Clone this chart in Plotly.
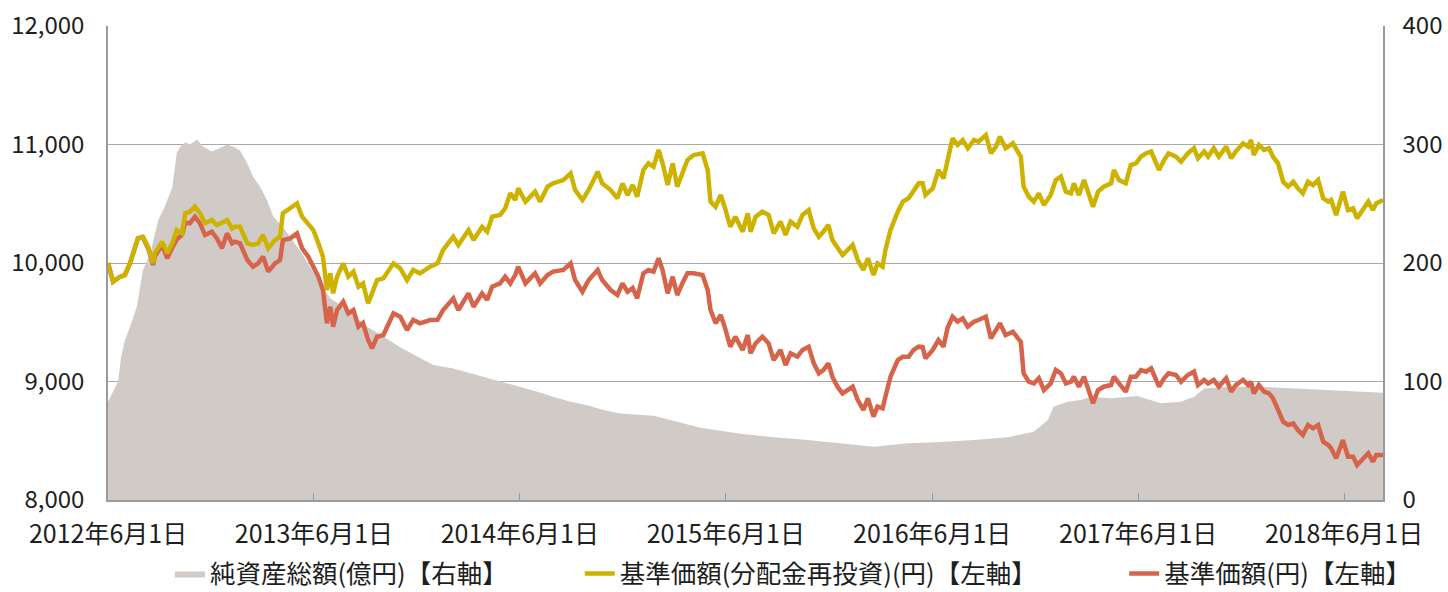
import plotly.graph_objects as go

# ---- data ----
line_dates = [
"2012-06-01","2012-06-10","2012-06-21","2012-07-01","2012-07-10","2012-07-24","2012-08-02","2012-08-11","2012-08-20","2012-08-23",
"2012-09-05","2012-09-14","2012-09-23","2012-10-01","2012-10-10","2012-10-16","2012-10-24","2012-11-02","2012-11-11","2012-11-20",
"2012-12-02","2012-12-11","2012-12-20","2012-12-29","2013-01-07","2013-01-12","2013-01-21","2013-02-03","2013-02-13","2013-02-22",
"2013-03-03","2013-03-12","2013-03-24","2013-04-02","2013-04-07","2013-04-20","2013-05-02","2013-05-11","2013-05-22","2013-05-31",
"2013-06-09","2013-06-17","2013-06-24","2013-06-30","2013-07-05","2013-07-12","2013-07-23","2013-08-01","2013-08-10","2013-08-19",
"2013-08-27","2013-09-05","2013-09-12","2013-09-21","2013-10-02","2013-10-20","2013-11-01","2013-11-13","2013-11-24","2013-12-06",
"2013-12-24","2014-01-06","2014-01-16","2014-02-03","2014-02-12","2014-03-02","2014-03-11","2014-03-26","2014-04-04","2014-04-13",
"2014-04-27","2014-05-06","2014-05-15","2014-05-24","2014-05-29","2014-06-11","2014-06-28","2014-07-07","2014-07-20","2014-07-30",
"2014-08-17","2014-08-30","2014-09-07","2014-09-20","2014-10-01","2014-10-17","2014-10-25","2014-11-09","2014-11-21","2014-11-30",
"2014-12-09","2014-12-18","2014-12-26","2015-01-06","2015-01-15","2015-01-24","2015-02-02","2015-02-09","2015-02-18","2015-02-27",
"2015-03-07","2015-03-16","2015-03-25","2015-04-05","2015-04-21","2015-04-30","2015-05-05","2015-05-14","2015-05-23","2015-05-30",
"2015-06-09","2015-06-18","2015-07-01","2015-07-10","2015-07-15","2015-07-24","2015-08-05","2015-08-16","2015-08-25","2015-09-06",
"2015-09-15","2015-09-24","2015-10-06","2015-10-15","2015-10-26","2015-11-04","2015-11-13","2015-11-21","2015-11-30","2015-12-07",
"2015-12-16","2015-12-25","2016-01-03","2016-01-12","2016-01-21","2016-01-31","2016-02-08","2016-02-18","2016-02-25","2016-03-05",
"2016-03-10","2016-03-19","2016-04-01","2016-04-10","2016-04-20","2016-04-29","2016-05-08","2016-05-15","2016-05-20","2016-06-02",
"2016-06-12","2016-06-21","2016-06-28","2016-07-07","2016-07-16","2016-07-25","2016-08-03","2016-08-14","2016-08-22","2016-09-04",
"2016-09-13","2016-09-22","2016-09-29","2016-10-09","2016-10-22","2016-10-31","2016-11-05","2016-11-10","2016-11-19","2016-11-28",
"2016-12-07","2016-12-16","2016-12-28","2017-01-06","2017-01-15","2017-01-24","2017-02-02","2017-02-07","2017-02-16","2017-02-25",
"2017-03-04","2017-03-13","2017-03-22","2017-04-01","2017-04-14","2017-04-19","2017-04-28","2017-05-10","2017-05-19","2017-05-28",
"2017-06-06","2017-06-15","2017-06-24","2017-07-02","2017-07-08","2017-07-17","2017-07-25","2017-08-07","2017-08-16","2017-08-28",
"2017-09-08","2017-09-15","2017-09-26","2017-10-03","2017-10-13","2017-10-22","2017-11-04","2017-11-13","2017-11-21","2017-12-04",
"2017-12-13","2017-12-18","2017-12-23","2018-01-01","2018-01-10","2018-01-19","2018-01-26","2018-02-04","2018-02-13","2018-02-22",
"2018-03-03","2018-03-11","2018-03-20","2018-03-29","2018-04-07","2018-04-16","2018-04-25","2018-05-04","2018-05-09","2018-05-18",
"2018-05-23","2018-05-30","2018-06-08","2018-06-17","2018-06-24","2018-07-05","2018-07-14","2018-07-22","2018-07-28","2018-08-09",
]

nav_reinvest = [  # 基準価額(分配金再投資)
10000,9842,9880,9899,9997,10208,10222,10137,10000,10084,
10180,10084,10166,10278,10250,10420,10433,10475,10420,10335,
10363,10320,10340,10363,10290,10306,10306,10166,10152,10166,
10236,10124,10194,10222,10420,10461,10503,10391,10335,10278,
10166,10053,9772,9913,9744,9884,9997,9884,9927,9800,
9828,9660,9744,9856,9870,9997,9955,9856,9941,9913,
9969,9997,10110,10222,10152,10278,10194,10306,10264,10391,
10405,10461,10588,10532,10630,10518,10602,10518,10644,10672,
10700,10757,10616,10532,10616,10771,10672,10616,10546,10672,
10574,10658,10560,10785,10841,10813,10954,10841,10658,10841,
10644,10771,10869,10911,10926,10785,10518,10475,10574,10475,
10306,10391,10264,10420,10264,10391,10433,10405,10250,10349,
10236,10349,10306,10405,10447,10292,10222,10264,10321,10194,
10124,10067,10110,10152,10025,9941,10040,9899,9997,9969,
10110,10278,10433,10518,10546,10602,10672,10672,10574,10630,
10785,10714,10869,11052,10996,11038,10968,11038,11024,11080,
10926,10982,11066,10968,11010,10926,10897,10644,10560,10518,
10588,10489,10574,10700,10729,10602,10588,10672,10574,10700,
10602,10475,10602,10644,10672,10785,10700,10672,10827,10841,
10897,10926,10940,10855,10785,10869,10926,10897,10855,10926,
10968,10883,10940,10897,10968,10897,10982,10883,10940,11010,
10982,11038,10911,10996,10954,10968,10897,10841,10686,10644,
10686,10630,10588,10686,10658,10700,10546,10518,10532,10405,
10489,10602,10447,10461,10377,10447,10518,10447,10503,10532,
]

nav = [  # 基準価額
10000,9842,9880,9899,9997,10208,10215,10125,9985,10060,
10150,10040,10130,10200,10236,10340,10335,10391,10335,10236,
10264,10208,10124,10250,10166,10180,10166,10025,9969,9997,
10053,9927,9997,10025,10194,10208,10250,10124,10053,9969,
9884,9772,9491,9631,9463,9603,9673,9575,9603,9463,
9494,9350,9280,9378,9392,9575,9547,9435,9519,9491,
9519,9520,9603,9702,9603,9744,9631,9744,9688,9800,
9828,9884,9828,9900,9969,9828,9913,9828,9899,9927,
9941,9997,9856,9758,9856,9941,9856,9772,9730,9828,
9758,9790,9702,9913,9941,9927,10040,9941,9744,9884,
9730,9828,9913,9913,9899,9772,9603,9491,9561,9463,
9294,9378,9266,9392,9238,9322,9378,9322,9181,9266,
9139,9238,9209,9266,9294,9153,9069,9097,9153,9041,
8956,8900,8928,8956,8844,8760,8858,8703,8788,8774,
8872,9041,9181,9209,9209,9266,9294,9290,9195,9266,
9350,9294,9449,9547,9505,9533,9463,9505,9519,9547,
9364,9435,9491,9392,9420,9364,9336,9069,8998,8984,
9027,8928,8984,9097,9069,8984,8998,9041,8956,9041,
8942,8816,8928,8956,8970,9041,8984,8914,9041,9041,
9097,9083,9111,9027,8956,9027,9069,9055,8998,9055,
9083,8970,9013,8984,9013,8956,9027,8914,8970,9013,
8970,8998,8900,8970,8914,8900,8858,8760,8661,8633,
8647,8591,8549,8633,8605,8633,8492,8464,8436,8352,
8422,8506,8366,8366,8295,8352,8394,8324,8380,8380,
]

asset_dates = [
"2012-06-01","2012-06-13","2012-06-19","2012-06-24","2012-07-01","2012-07-10","2012-07-22","2012-08-02","2012-08-15","2012-08-29",
"2012-09-10","2012-09-23","2012-10-01","2012-10-07","2012-10-16","2012-10-24","2012-11-06","2012-11-17","2012-12-02","2012-12-17",
"2012-12-29","2013-01-09","2013-01-21","2013-02-03","2013-02-13","2013-02-26","2013-03-10","2013-03-21","2013-04-06","2013-04-20",
"2013-05-08","2013-05-25","2013-06-12","2013-06-30","2013-07-17","2013-08-04","2013-09-04","2013-10-02","2013-11-01","2013-12-01",
"2013-12-30","2014-02-03","2014-03-05","2014-04-04","2014-05-09","2014-06-02","2014-07-02","2014-07-30","2014-08-30","2014-09-29",
"2014-10-27","2014-11-26","2014-12-26","2015-01-24","2015-02-23","2015-04-17","2015-06-27","2015-08-25","2015-10-24","2015-12-22",
"2016-02-18","2016-03-19","2016-04-18","2016-06-16","2016-08-14","2016-10-13","2016-11-28","2016-12-23","2017-01-02","2017-01-27",
"2017-02-19","2017-03-09","2017-04-14","2017-05-31","2017-06-24","2017-07-11","2017-08-16","2017-09-08","2017-09-26","2017-11-07",
"2018-01-05","2018-03-04","2018-05-04","2018-07-01","2018-08-09",
]

net_assets = [  # 純資産総額(億円)
83,95,100,120,135,146,163,194,208,236,
248,264,293,298,302,300,304,298,294,297,
300,298,295,284,273,264,253,239,231,222,
210,197,183,170,165,158,146,138,129,121,
114,111,107,103,98.5,95.6,91.4,87.2,83,80,
76,73,72,71,67.5,61,56,53,50.6,47.8,
45,46.4,47.8,49,50.6,53,57.6,67.5,78.7,83,
84.4,87.2,85.8,87.8,84.4,81.6,83,87.2,94,95.6,
95.6,94.3,92.8,91.4,90.6,
]

tick_dates = ["2012-06-01","2013-06-01","2014-06-01","2015-06-01","2016-06-01","2017-06-01","2018-06-01"]
tick_labels = ["2012年6月1日","2013年6月1日","2014年6月1日","2015年6月1日","2016年6月1日","2017年6月1日","2018年6月1日"]

names = ["純資産総額(億円)【右軸】", "基準価額(分配金再投資)(円)【左軸】", "基準価額(円)【左軸】"]

# ---- style ----
FONT = "Noto Sans CJK JP"
C_AREA = "#D1CBC8"
C_GOLD = "#CDB300"
C_RED = "#D5644A"
C_AXIS = "#9A9A9A"
C_GRID = "#A8A8A8"
C_TEXT = "#1e1e1e"

fig = go.Figure()
fig.add_trace(go.Scatter(
    x=asset_dates, y=net_assets, name=names[0], mode="lines",
    line=dict(width=0, color=C_AREA), fill="tozeroy", fillcolor=C_AREA,
    yaxis="y", legend="legend"))
fig.add_trace(go.Scatter(
    x=line_dates, y=nav, name=names[2], mode="lines",
    line=dict(width=4.5, color=C_RED), yaxis="y2", legend="legend3"))
fig.add_trace(go.Scatter(
    x=line_dates, y=nav_reinvest, name=names[1], mode="lines",
    line=dict(width=4.5, color=C_GOLD), yaxis="y2", legend="legend2"))

leg_common = dict(orientation="h", yanchor="middle", y=-0.156, xanchor="left",
                  font=dict(family=FONT, size=25.5, color=C_TEXT),
                  bgcolor="rgba(0,0,0,0)", borderwidth=0)

fig.update_layout(
    width=1448, height=592,
    margin=dict(l=108, r=65, t=26, b=92, autoexpand=False),
    paper_bgcolor="white", plot_bgcolor="white",
    font=dict(family=FONT, size=24, color=C_TEXT),
    xaxis=dict(
        type="date", range=["2012-06-01", "2018-08-09"],
        tickvals=tick_dates, ticktext=tick_labels,
        ticks="inside", ticklen=7, tickcolor=C_AXIS, tickwidth=1,
        showline=True, linecolor=C_AXIS, linewidth=1.5,
        showgrid=False, zeroline=False, ticklabelstandoff=11,
        automargin=False,
        tickfont=dict(family=FONT, size=25, color=C_TEXT),
    ),
    yaxis=dict(
        range=[0, 400], dtick=100, side="right",
        showgrid=True, gridcolor=C_GRID, gridwidth=1,
        showline=True, linecolor=C_AXIS, linewidth=1.5,
        zeroline=False, ticks="", ticklabelstandoff=13,
        automargin=False,
        tickfont=dict(family=FONT, size=24, color=C_TEXT),
    ),
    yaxis2=dict(
        range=[8000, 12000], dtick=1000, side="left", overlaying="y",
        tickformat=",", showgrid=False,
        showline=True, linecolor=C_AXIS, linewidth=1.5,
        zeroline=False, ticks="", ticklabelstandoff=17,
        automargin=False,
        tickfont=dict(family=FONT, size=24, color=C_TEXT),
    ),
    legend=dict(x=0.0486, **leg_common),
    legend2=dict(x=0.370, **leg_common),
    legend3=dict(x=0.797, **leg_common),
    showlegend=True,
)

fig.write_html("out.html")
